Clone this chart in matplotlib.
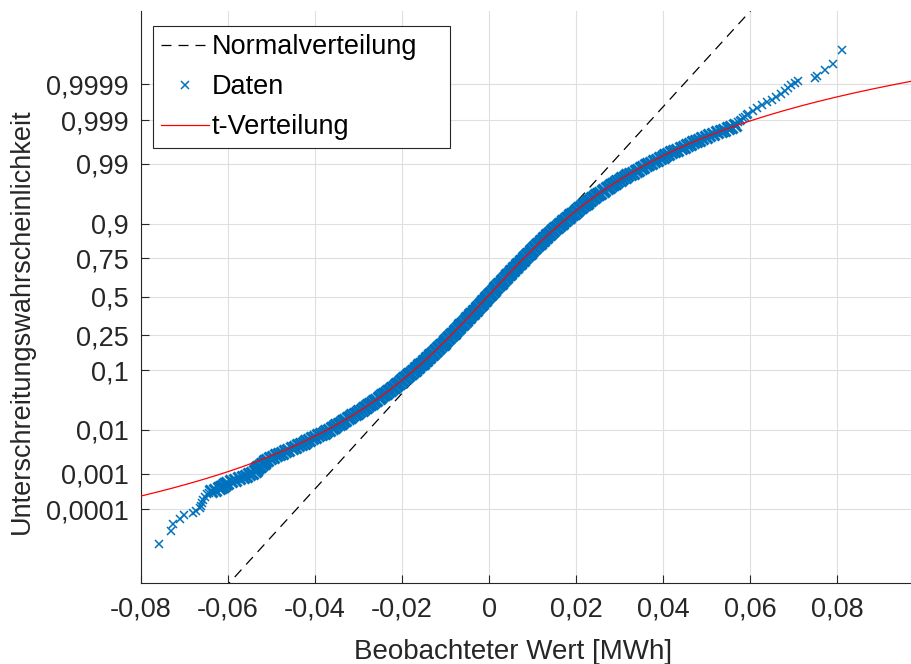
import numpy as np
import matplotlib
matplotlib.use("Agg")
import matplotlib.pyplot as plt
from statistics import NormalDist

plt.rcParams["font.family"] = ["Liberation Sans", "DejaVu Sans"]

# ---- data --------------------------------------------------------------
# body of the sample: normal quantile positions -2.90 ... 3.00 (step 0.05)
body_x = [
    -0.0518, -0.0510, -0.0497, -0.0483, -0.0468, -0.0454, -0.0440, -0.0426, -0.0413, -0.0400,
    -0.0386, -0.0375, -0.0362, -0.0352, -0.0340, -0.0330, -0.0319, -0.0309, -0.0298, -0.0288,
    -0.0278, -0.0269, -0.0259, -0.0250, -0.0241, -0.0232, -0.0224, -0.0215, -0.0207, -0.0199,
    -0.0191, -0.0183, -0.0175, -0.0168, -0.0160, -0.0153, -0.0146, -0.0139, -0.0132, -0.0125,
    -0.0118, -0.0111, -0.0104, -0.0098, -0.0091, -0.0085, -0.0078, -0.0072, -0.0066, -0.0059,
    -0.0053, -0.0047, -0.0041, -0.0035, -0.0028, -0.0022, -0.0016, -0.0010, -0.0004, 0.0002,
    0.0008, 0.0014, 0.0020, 0.0027, 0.0033, 0.0039, 0.0045, 0.0051, 0.0058, 0.0064,
    0.0070, 0.0077, 0.0083, 0.0090, 0.0096, 0.0103, 0.0110, 0.0117, 0.0124, 0.0131,
    0.0138, 0.0145, 0.0152, 0.0160, 0.0167, 0.0175, 0.0183, 0.0191, 0.0199, 0.0207,
    0.0216, 0.0224, 0.0233, 0.0242, 0.0251, 0.0261, 0.0270, 0.0280, 0.0290, 0.0301,
    0.0312, 0.0323, 0.0337, 0.0349, 0.0360, 0.0373, 0.0385, 0.0399, 0.0412, 0.0426,
    0.0440, 0.0454, 0.0468, 0.0483, 0.0498, 0.0515, 0.0532, 0.0549, 0.0565,
]
body_q = np.round(np.arange(-2.90, 3.0001, 0.05), 3)

# in-between observations of the body: positions -2.375 ... 2.375 (step 0.05)
mid_x = [
    -0.0380, -0.0368, -0.0357, -0.0346, -0.0335, -0.0324, -0.0314, -0.0303, -0.0293, -0.0283,
    -0.0273, -0.0264, -0.0254, -0.0245, -0.0236, -0.0228, -0.0219, -0.0211, -0.0203, -0.0195,
    -0.0187, -0.0179, -0.0171, -0.0164, -0.0156, -0.0149, -0.0142, -0.0135, -0.0128, -0.0121,
    -0.0114, -0.0107, -0.0101, -0.0094, -0.0088, -0.0081, -0.0075, -0.0069, -0.0062, -0.0056,
    -0.0050, -0.0044, -0.0038, -0.0031, -0.0025, -0.0019, -0.0013, -0.0007, -0.0001, 0.0005,
    0.0011, 0.0017, 0.0023, 0.0030, 0.0036, 0.0042, 0.0048, 0.0054, 0.0061, 0.0067,
    0.0073, 0.0080, 0.0086, 0.0093, 0.0099, 0.0106, 0.0113, 0.0120, 0.0127, 0.0134,
    0.0141, 0.0148, 0.0156, 0.0163, 0.0171, 0.0179, 0.0187, 0.0195, 0.0203, 0.0211,
    0.0220, 0.0228, 0.0237, 0.0246, 0.0256, 0.0265, 0.0275, 0.0285, 0.0295, 0.0306,
    0.0317, 0.0330, 0.0343, 0.0354, 0.0366, 0.0379,
]
mid_q = np.round(np.arange(-2.375, 2.3751, 0.05), 3)

# lower tail
low_q = [-4.33, -4.09, -3.98, -3.88, -3.82, -3.78, -3.74, -3.70, -3.65, -3.60,
         -3.55, -3.50, -3.45, -3.425, -3.40, -3.375, -3.35, -3.325, -3.30, -3.275,
         -3.25, -3.225, -3.20, -3.175, -3.15, -3.125, -3.10, -3.075, -3.05, -3.025,
         -3.00, -2.975, -2.95, -2.925, -2.875, -2.825, -2.775, -2.725, -2.675, -2.625,
         -2.575, -2.525, -2.475, -2.425]
low_x = [-0.0759, -0.0731, -0.0726, -0.0711, -0.0702, -0.0681, -0.0673, -0.0665, -0.0661, -0.0659,
         -0.0657, -0.0653, -0.0648, -0.0644, -0.0638, -0.0630, -0.0621, -0.0616, -0.0612, -0.0607,
         -0.0602, -0.0594, -0.0585, -0.0575, -0.0566, -0.0559, -0.0552, -0.0545, -0.0539, -0.0536,
         -0.0533, -0.0530, -0.0527, -0.0522, -0.0515, -0.0504, -0.0490, -0.0476, -0.0461, -0.0447,
         -0.0433, -0.0420, -0.0406, -0.0393]

# upper tail
up_q = [2.425, 2.475, 2.525, 2.575, 2.625, 2.675, 2.725, 2.775, 2.825, 2.875,
        2.925, 2.975, 3.025, 3.05, 3.075, 3.10, 3.125, 3.15, 3.175, 3.20,
        3.25, 3.30, 3.35, 3.40, 3.45, 3.50, 3.55, 3.60, 3.65, 3.70,
        3.74, 3.77, 3.82, 3.87, 3.96, 4.07, 4.32]
up_x = [0.0392, 0.0405, 0.0419, 0.0433, 0.0447, 0.0461, 0.0475, 0.0490, 0.0506, 0.0523,
        0.0540, 0.0557, 0.0568, 0.0572, 0.0576, 0.0580, 0.0584, 0.0588, 0.0592, 0.0596,
        0.0606, 0.0616, 0.0627, 0.0638, 0.0650, 0.0660, 0.0670, 0.0680, 0.0688, 0.0695,
        0.0702, 0.0711, 0.0749, 0.0753, 0.0771, 0.0790, 0.0812]

# fitted distributions
norm_mu, norm_sigma = 0.0002, 0.01197
t_loc, t_scale, t_df = -0.0004, 0.0117, 6.0

prob_ticks = [0.0001, 0.001, 0.01, 0.1, 0.25, 0.5, 0.75, 0.9, 0.99, 0.999, 0.9999]
prob_labels = ["0,0001", "0,001", "0,01", "0,1", "0,25", "0,5", "0,75", "0,9", "0,99", "0,999", "0,9999"]
x_ticks = [-0.08, -0.06, -0.04, -0.02, 0, 0.02, 0.04, 0.06, 0.08]
x_labels = ["-0,08", "-0,06", "-0,04", "-0,02", "0", "0,02", "0,04", "0,06", "0,08"]

ND = NormalDist()


def probit(p):
    p = np.clip(np.asarray(p, dtype=float), 1e-15, 1 - 1e-15)
    return np.vectorize(ND.inv_cdf, otypes=[float])(p)


def phi(z):
    return np.vectorize(ND.cdf, otypes=[float])(np.asarray(z, dtype=float))


def t_cdf(x, loc, scale, df):
    u = (np.asarray(x) - loc) / scale
    grid = np.linspace(-300, 300, 600001)
    pdf = (1 + grid ** 2 / df) ** (-(df + 1) / 2)
    cdf = np.concatenate([[0.0], np.cumsum((pdf[1:] + pdf[:-1]) / 2 * np.diff(grid))])
    cdf /= cdf[-1]
    return np.interp(u, grid, cdf)


data_x = np.concatenate([low_x, body_x, mid_x, up_x])
data_q = np.concatenate([low_q, body_q, mid_q, up_q])
order = np.argsort(data_q)
data_x, data_q = data_x[order], data_q[order]
data_p = phi(data_q)
# thousands of overlapping markers form a solid band in the middle
dense = (data_q > -3.42) & (data_q < 3.02)

xlim = (-0.08, 0.0972)

fig = plt.figure(figsize=(9.12, 6.64), dpi=100)
ax = fig.add_axes([141 / 912, (664 - 582.7) / 664, 771 / 912, 571.7 / 664])
ax.set_yscale("function", functions=(probit, phi))

zz = np.array([-6.0, 6.0])
ax.plot(norm_mu + norm_sigma * zz, phi(zz), color="k", lw=0.9, ls=(0, (8, 5.6)),
        label="Normalverteilung", zorder=2)
ax.plot(data_x[dense], data_p[dense], ls="none", marker="x", ms=9, mew=2.2,
        color="#0072BD", zorder=3)
ax.plot(data_x[~dense], data_p[~dense], ls="none", marker="x", ms=6, mew=1.1,
        color="#0072BD", label="Daten", zorder=3)
rx = np.linspace(xlim[0], xlim[1], 600)
ax.plot(rx, t_cdf(rx, t_loc, t_scale, t_df), color="r", lw=0.9, label="t-Verteilung", zorder=4)

ax.set_xlim(*xlim)
ax.set_ylim(phi(-5.0), phi(5.0))
ax.set_yticks(prob_ticks)
ax.set_yticklabels(prob_labels)
ax.set_xticks(x_ticks)
ax.set_xticklabels(x_labels)
ax.minorticks_off()

ax.grid(True, color="#dfdfdf", lw=0.8)
ax.set_axisbelow(True)
for side in ["top", "right"]:
    ax.spines[side].set_visible(False)
for side in ["left", "bottom"]:
    ax.spines[side].set_color("#262626")
    ax.spines[side].set_linewidth(0.8)
ax.tick_params(direction="in", length=5.5, width=0.8, color="#262626",
               labelsize=19.5, labelcolor="#262626")
ax.tick_params(axis="x", pad=10)
ax.tick_params(axis="y", pad=9)

ax.set_xlabel("Beobachteter Wert [MWh]", fontsize=20, color="#262626")
ax.set_ylabel("Unterschreitungswahrscheinlichkeit", fontsize=19.5, color="#262626")
ax.xaxis.set_label_coords(0.4825, -0.099)
ax.yaxis.set_label_coords(-0.138, 0.457)

leg = ax.legend(loc="upper left", bbox_to_anchor=(0.016, 0.5, 0.385, 0.474), mode="expand",
                borderaxespad=0, fontsize=19.5, fancybox=False, framealpha=1,
                edgecolor="#262626", handlelength=1.75, handletextpad=0.12,
                labelspacing=0.52, borderpad=0.3)
leg.get_frame().set_linewidth(0.8)

fig.savefig("out.png", dpi=100)
